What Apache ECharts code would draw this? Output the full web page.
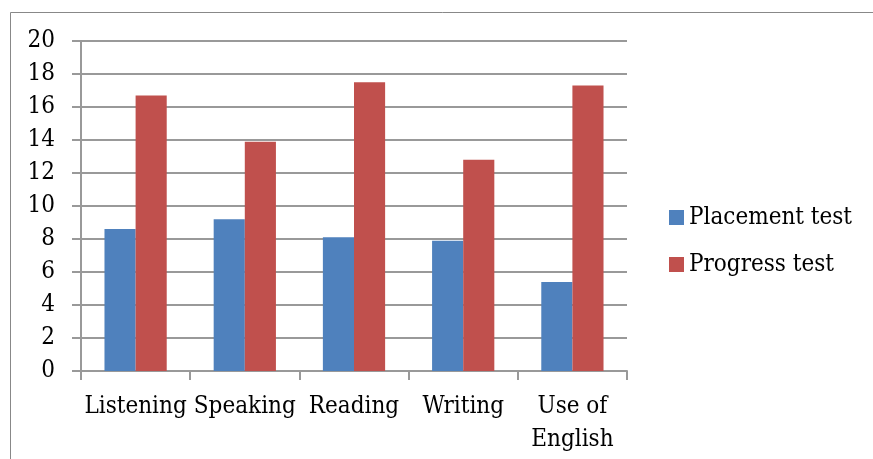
<!DOCTYPE html>
<html>
<head>
<meta charset="utf-8">
<script src="https://cdn.jsdelivr.net/npm/echarts@6/dist/echarts.min.js"></script>
<style>
  html, body { margin: 0; padding: 0; background: #fff; }
  #chart { width: 873px; height: 459px; }
</style>
</head>
<body>
<div id="chart"></div>
<script>
// chart data
var categories = ['Listening', 'Speaking', 'Reading', 'Writing', 'Use of\nEnglish'];
var placementTest = [8.6, 9.2, 8.1, 7.9, 5.4];
var progressTest = [16.7, 13.9, 17.5, 12.8, 17.3];
var seriesNames = ['Placement test', 'Progress test'];

var font = '"DejaVu Serif Condensed", "DejaVu Serif", serif';
var gridColor = '#999999';

var myChart = echarts.init(document.getElementById('chart'));

var option = {
  animation: false,
  backgroundColor: '#fff',
  graphic: [
    {
      type: 'rect',
      shape: { x: 10.5, y: 12.5, width: 900, height: 500 },
      style: { fill: 'none', stroke: '#888', lineWidth: 1 },
      silent: true
    }
  ],
  legend: {
    orient: 'vertical',
    left: 669,
    top: 205,
    padding: 0,
    itemWidth: 15,
    itemHeight: 15,
    itemGap: 22,
    icon: 'rect',
    data: seriesNames,
    textStyle: {
      fontFamily: font,
      fontSize: 24,
      color: '#000',
      lineHeight: 25
    }
  },
  grid: {
    left: 81,
    right: 246,
    top: 41,
    bottom: 88
  },
  xAxis: {
    type: 'category',
    data: categories,
    axisLine: { lineStyle: { color: gridColor, width: 2 } },
    axisTick: { show: true, length: 9, lineStyle: { color: gridColor, width: 2 } },
    axisLabel: {
      fontFamily: font,
      fontSize: 24,
      color: '#000',
      lineHeight: 33,
      margin: 19,
      interval: 0
    }
  },
  yAxis: {
    type: 'value',
    min: 0,
    max: 20,
    interval: 2,
    axisLine: { show: true, lineStyle: { color: gridColor, width: 2 } },
    axisTick: { show: true, length: 9, lineStyle: { color: gridColor, width: 2 } },
    splitLine: { lineStyle: { color: gridColor, width: 2 } },
    axisLabel: {
      fontFamily: font,
      fontSize: 24,
      color: '#000',
      margin: 26
    }
  },
  series: [
    {
      name: seriesNames[0],
      type: 'bar',
      data: placementTest,
      barGap: '0%',
      barCategoryGap: '43%',
      itemStyle: { color: '#4F81BD' }
    },
    {
      name: seriesNames[1],
      type: 'bar',
      data: progressTest,
      barGap: '0%',
      barCategoryGap: '43%',
      itemStyle: { color: '#C0504D' }
    }
  ]
};

myChart.setOption(option);
</script>
</body>
</html>
